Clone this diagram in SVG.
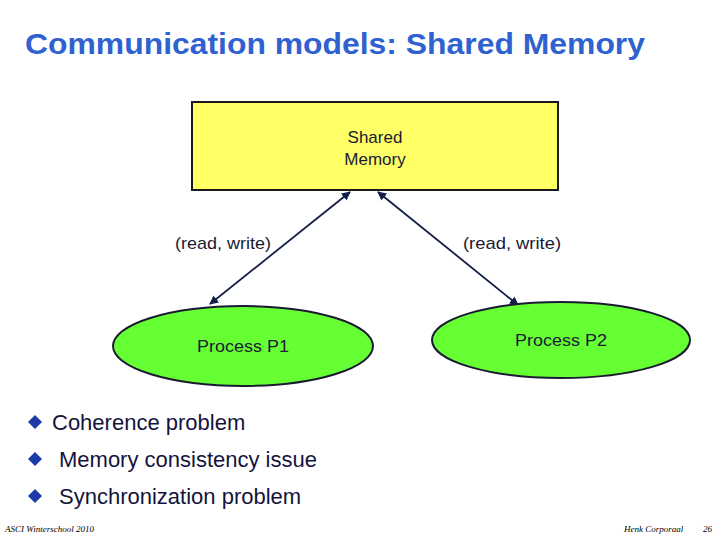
<svg xmlns="http://www.w3.org/2000/svg" width="720" height="540" viewBox="0 0 720 540">
<defs>
<style>
.t{font-family:"Liberation Sans",Arial,sans-serif;}
.lbl{font-family:"Liberation Sans",Arial,sans-serif;font-size:17px;fill:#1a1a33;}
.bul{font-family:"Liberation Sans",Arial,sans-serif;font-size:22px;fill:#14143c;}
.foot{font-family:"Liberation Serif","Times New Roman",serif;font-style:italic;font-size:9px;fill:#000;}
.conn{stroke:#141e4a;stroke-width:1.8;fill:none;marker-start:url(#ah);marker-end:url(#ah);}
.dia{fill:#1c3aa8;}
</style>
<marker id="ah" viewBox="0 0 10 10" refX="9" refY="5" markerWidth="5" markerHeight="5" orient="auto-start-reverse" markerUnits="strokeWidth">
<path d="M0,0 L10,5 L0,10 z" fill="#141e4a"/>
</marker>
</defs>
<rect width="720" height="540" fill="#fff"/>
<text class="t" x="25" y="54" font-size="30" font-weight="bold" fill="#2f62d0" textLength="620" lengthAdjust="spacingAndGlyphs">Communication models: Shared Memory</text>
<g id="connectors">
<line class="conn" x1="350" y1="192" x2="210" y2="304"/>
<line class="conn" x1="378" y1="192" x2="518" y2="305"/>
<text class="lbl" x="175" y="249" textLength="96" lengthAdjust="spacingAndGlyphs">(read, write)</text>
<text class="lbl" x="463" y="249" textLength="98" lengthAdjust="spacingAndGlyphs">(read, write)</text>
</g>
<g id="shared-memory">
<rect x="192" y="102" width="366" height="88" fill="#ffff66" stroke="#1a1a1a" stroke-width="2"/>
<text class="lbl" x="375" y="143" text-anchor="middle">Shared</text>
<text class="lbl" x="375" y="165" text-anchor="middle">Memory</text>
</g>
<g id="process-p1">
<ellipse cx="243" cy="346" rx="130" ry="40" fill="#66ff33" stroke="#1a1a33" stroke-width="2"/>
<text class="lbl" x="197" y="352" textLength="92" lengthAdjust="spacingAndGlyphs">Process P1</text>
</g>
<g id="process-p2">
<ellipse cx="561" cy="340" rx="129" ry="38" fill="#66ff33" stroke="#1a1a33" stroke-width="2"/>
<text class="lbl" x="515" y="346" textLength="92" lengthAdjust="spacingAndGlyphs">Process P2</text>
</g>
<g id="bullets">
<path class="dia" d="M35,415 L42,422 L35,429 L28,422 z"/>
<text class="bul" x="52" y="430">Coherence problem</text>
<path class="dia" d="M35,452 L42,459 L35,466 L28,459 z"/>
<text class="bul" x="59" y="467">Memory consistency issue</text>
<path class="dia" d="M35,489 L42,496 L35,503 L28,496 z"/>
<text class="bul" x="59" y="504">Synchronization problem</text>
</g>
<g id="footer">
<text class="foot" x="5" y="532">ASCI Winterschool 2010</text>
<text class="foot" x="624" y="532">Henk Corporaal</text>
<text class="foot" x="703" y="532">26</text>
</g>
</svg>
